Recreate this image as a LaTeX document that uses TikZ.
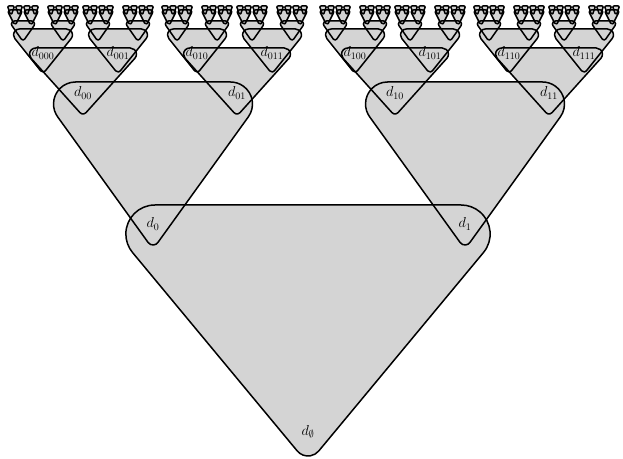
\documentclass[tikz,border=0pt]{standalone}
\usepackage{amsmath}
\usepackage{tikz}

\tikzset{
  trifill/.style={fill=black!17},
  triline/.style={draw=black,line width=1.5pt,line join=round},
  dlabel/.style={inner sep=0pt,font=\fontsize{14.4}{17}\selectfont},
}

% one entry per level, in pixels counted from the top edge
\def\Ltop{{205,82,48,29,21,10,6}}
\def\Lapex{{456,245,114,72,40,24,14}}
\def\Lk{{0.83,0.72,0.9,0.8,0.7,0.5,0.35}}
\def\Lrt{{29,22,6.2,5.9,3,2,1}}
\def\Lra{{14,6,4,3,2,1.5,1}}
\def\Llab{{24,21,21,19}}
\def\Loffl{{155,70,40,20,8,4}}
\def\Loffr{{157,84,35,20,8,4}}
\def\maxlevel{6}

% rounded triangle: #1 style, #2 level, #3 centre
\newcommand\rtri[3]{%
  \pgfmathsetmacro\tk{\Lk[#2]}%
  \pgfmathsetmacro\trt{\Lrt[#2]}%
  \pgfmathsetmacro\tra{\Lra[#2]}%
  \pgfmathsetmacro\tup{\Ltop[#2]}%
  \pgfmathsetmacro\tlo{\Lapex[#2]}%
  \pgfmathsetmacro\ttop{458-\tup}%
  \pgfmathsetmacro\tsq{sqrt(1+\tk*\tk)}%
  \pgfmathsetmacro\tH{\tlo-\tup+\tra*(\tsq/\tk-1)}%
  \pgfmathsetmacro\thw{\tk*\tH}%
  \pgfmathsetmacro\tph{atan(\tk)}%
  \pgfmathsetmacro\txl{#3-\thw+\trt*(\tsq+\tk)}%
  \pgfmathsetmacro\txr{#3+\thw-\trt*(\tsq+\tk)}%
  \pgfmathsetmacro\tca{\ttop-\tH+\tra*\tsq/\tk}%
  \pgfmathsetmacro\tax{#3-\tra*cos(\tph)}%
  \pgfmathsetmacro\tay{\tca-\tra*sin(\tph)}%
  \pgfmathsetmacro\tbx{\txr+\trt*cos(\tph)}%
  \pgfmathsetmacro\tby{\ttop-\trt-\trt*sin(\tph)}%
  \path[#1] (\txr,\ttop) -- (\txl,\ttop)
    arc[start angle=90,end angle=180+\tph,radius=\trt] -- (\tax,\tay)
    arc[start angle=180+\tph,end angle=360-\tph,radius=\tra] -- (\tbx,\tby)
    arc[start angle=-\tph,end angle=90,radius=\trt] -- cycle;
}

\newcommand\filltri[3]{\rtri{trifill}{#1}{#2}}
\newcommand\linetri[3]{\rtri{triline}{#1}{#2}}
\newcommand\labeltri[3]{%
  \ifnum#1<4
    \pgfmathsetmacro\lo{\Lapex[#1]}%
    \pgfmathsetmacro\ly{458-\lo+\Llab[#1]}%
    \node[dlabel] (d#3) at (#2,\ly) {$d_{\ifx\relax#3\relax\emptyset\else#3\fi}$};%
  \fi}

% #1 level, #2 centre, #3 index string
\newcommand\tritree[3]{%
  \begingroup
  \onetri{#1}{#2}{#3}%
  \ifnum#1<\maxlevel\relax
    \pgfmathsetmacro\xL{#2-\Loffl[#1]}%
    \pgfmathsetmacro\xR{#2+\Loffr[#1]}%
    \edef\tmp{\noexpand\tritree{\the\numexpr#1+1\relax}{\xL}{#30}%
      \noexpand\tritree{\the\numexpr#1+1\relax}{\xR}{#31}}%
    \tmp
  \fi
  \endgroup
}

\begin{document}
\begin{tikzpicture}[x=1pt,y=1pt]
\useasboundingbox (0,0) rectangle (623,458);
\let\onetri\filltri \tritree{0}{308}{}
\let\onetri\linetri \tritree{0}{308}{}
\let\onetri\labeltri \tritree{0}{308}{}
\end{tikzpicture}
\end{document}
